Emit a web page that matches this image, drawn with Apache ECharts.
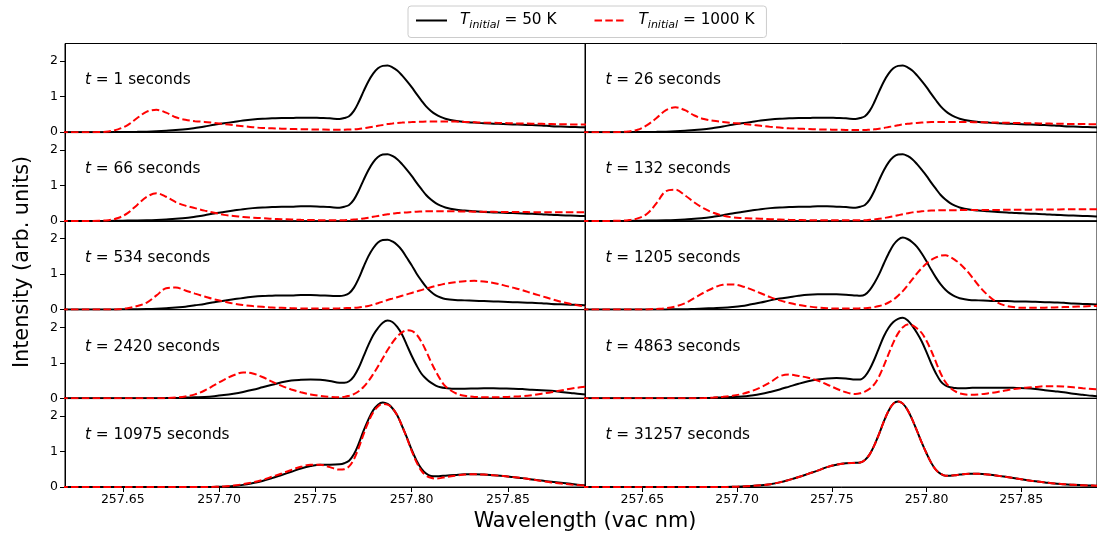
<!DOCTYPE html>
<html>
<head>
<meta charset="utf-8">
<script src="https://cdn.jsdelivr.net/npm/echarts@6/dist/echarts.min.js"></script>
<style>
  html, body { margin: 0; padding: 0; background: #fff; }
  #chart_one { width: 1097px; height: 533px; }
</style>
</head>
<body>
<div id="chart_one"></div>
<script>
// wavelength grid (vac nm), shared by all panels; finer around the main line
const wavelength = [257.6175, 257.6225, 257.6275, 257.6325, 257.6375, 257.6425, 257.6475, 257.6525, 257.6575, 257.6625,
  257.6675, 257.6725, 257.6775, 257.6825, 257.6875, 257.6925, 257.6975, 257.7025, 257.7075, 257.7125,
  257.7175, 257.7225, 257.7275, 257.7325, 257.7375, 257.7425, 257.7475, 257.7525, 257.7575, 257.7625,
  257.765, 257.7675, 257.77, 257.7725, 257.775, 257.7775, 257.78, 257.7825, 257.785, 257.7875, 257.79,
  257.7925, 257.795, 257.7975, 257.8, 257.8025, 257.805, 257.8075, 257.81, 257.8125, 257.815, 257.8175,
  257.8225, 257.8275, 257.8325, 257.8375, 257.8425, 257.8475, 257.8525, 257.8575, 257.8625, 257.8675,
  257.8725, 257.8775, 257.8825, 257.8875, 257.8925];

const times = [1, 26, 66, 132, 534, 1205, 2420, 4863, 10975, 31257];

// T_initial = 50 K
const cold_1 = [0, 0, 0, 0, 0, 0, 0.005, 0.008, 0.01, 0.015, 0.025, 0.04, 0.06, 0.08, 0.12, 0.16, 0.21, 0.25, 0.29, 0.33, 0.36, 0.38, 0.39, 0.4, 0.4, 0.41, 0.41, 0.4, 0.39, 0.37,
  0.4, 0.45, 0.6, 0.85, 1.15, 1.43, 1.65, 1.8, 1.87, 1.88, 1.83, 1.74, 1.6, 1.44, 1.27, 1.08, 0.9, 0.73, 0.6, 0.5, 0.43, 0.38,
  0.32, 0.29, 0.27, 0.25, 0.24, 0.23, 0.22, 0.21, 0.2, 0.19, 0.17, 0.16, 0.15, 0.14, 0.13];
const cold_26 = [0, 0, 0, 0, 0, 0, 0.005, 0.008, 0.01, 0.015, 0.025, 0.04, 0.06, 0.08, 0.12, 0.16, 0.21, 0.25, 0.29, 0.33, 0.36, 0.38, 0.39, 0.4, 0.4, 0.41, 0.41, 0.4, 0.39, 0.37,
  0.4, 0.45, 0.6, 0.85, 1.15, 1.43, 1.65, 1.8, 1.87, 1.88, 1.83, 1.74, 1.6, 1.44, 1.27, 1.08, 0.9, 0.73, 0.6, 0.5, 0.43, 0.38,
  0.32, 0.29, 0.27, 0.25, 0.24, 0.23, 0.22, 0.21, 0.2, 0.19, 0.17, 0.16, 0.15, 0.14, 0.13];
const cold_66 = [0, 0, 0, 0, 0, 0, 0.005, 0.008, 0.01, 0.015, 0.025, 0.04, 0.06, 0.08, 0.12, 0.16, 0.21, 0.25, 0.29, 0.33, 0.36, 0.38, 0.39, 0.4, 0.4, 0.41, 0.41, 0.4, 0.39, 0.37,
  0.4, 0.45, 0.6, 0.85, 1.15, 1.43, 1.65, 1.8, 1.87, 1.88, 1.83, 1.74, 1.6, 1.44, 1.27, 1.08, 0.9, 0.73, 0.6, 0.5, 0.43, 0.38,
  0.32, 0.29, 0.27, 0.25, 0.24, 0.23, 0.22, 0.21, 0.2, 0.19, 0.17, 0.16, 0.15, 0.14, 0.13];
const cold_132 = [0, 0, 0, 0, 0, 0, 0.005, 0.008, 0.01, 0.015, 0.025, 0.04, 0.06, 0.08, 0.12, 0.16, 0.21, 0.25, 0.29, 0.33, 0.36, 0.38, 0.39, 0.4, 0.4, 0.41, 0.41, 0.4, 0.39, 0.37,
  0.4, 0.45, 0.6, 0.85, 1.15, 1.43, 1.65, 1.8, 1.87, 1.88, 1.83, 1.74, 1.6, 1.44, 1.27, 1.08, 0.9, 0.73, 0.6, 0.5, 0.43, 0.38,
  0.32, 0.29, 0.27, 0.25, 0.24, 0.22, 0.21, 0.2, 0.19, 0.17, 0.16, 0.15, 0.14, 0.13, 0.12];
const cold_534 = [0, 0, 0, 0, 0, 0, 0.005, 0.008, 0.01, 0.015, 0.025, 0.04, 0.06, 0.08, 0.12, 0.16, 0.21, 0.25, 0.29, 0.33, 0.36, 0.38, 0.39, 0.4, 0.4, 0.41, 0.41, 0.4, 0.39, 0.38,
  0.4, 0.46, 0.62, 0.88, 1.2, 1.5, 1.73, 1.89, 1.96, 1.97, 1.92, 1.82, 1.67, 1.46, 1.25, 1.02, 0.82, 0.64, 0.5, 0.4, 0.34, 0.3,
  0.27, 0.26, 0.25, 0.24, 0.23, 0.22, 0.21, 0.2, 0.19, 0.18, 0.16, 0.15, 0.14, 0.13, 0.12];
const cold_1205 = [0, 0, 0, 0, 0, 0, 0, 0, 0, 0.005, 0.01, 0.01, 0.02, 0.03, 0.04, 0.05, 0.07, 0.1, 0.15, 0.2, 0.26, 0.31, 0.35, 0.39, 0.42, 0.43, 0.43, 0.43, 0.42, 0.4,
  0.39, 0.42, 0.55, 0.75, 1.0, 1.3, 1.58, 1.82, 1.97, 2.03, 1.99, 1.9, 1.77, 1.58, 1.36, 1.12, 0.9, 0.71, 0.56, 0.45, 0.37, 0.32,
  0.27, 0.26, 0.25, 0.24, 0.24, 0.23, 0.23, 0.22, 0.21, 0.2, 0.19, 0.17, 0.16, 0.15, 0.14];
const cold_2420 = [0, 0, 0, 0, 0, 0, 0, 0, 0, 0, 0.003, 0.005, 0.01, 0.02, 0.03, 0.04, 0.06, 0.09, 0.13, 0.18, 0.24, 0.31, 0.38, 0.45, 0.5, 0.52, 0.53, 0.52, 0.49, 0.44,
  0.44, 0.48, 0.62, 0.86, 1.18, 1.5, 1.78, 1.98, 2.13, 2.19, 2.15, 2.01, 1.8, 1.5, 1.2, 0.93, 0.7, 0.55, 0.44, 0.36, 0.31, 0.29,
  0.27, 0.27, 0.275, 0.28, 0.28, 0.275, 0.27, 0.26, 0.24, 0.23, 0.21, 0.18, 0.15, 0.12, 0.1];
const cold_4863 = [0, 0, 0, 0, 0, 0, 0, 0, 0, 0, 0, 0, 0.003, 0.008, 0.015, 0.025, 0.035, 0.05, 0.08, 0.12, 0.18, 0.25, 0.33, 0.41, 0.48, 0.53, 0.56, 0.57, 0.56, 0.53,
  0.53, 0.62, 0.82, 1.1, 1.43, 1.75, 1.99, 2.15, 2.24, 2.27, 2.2, 2.04, 1.84, 1.6, 1.3, 0.98, 0.7, 0.48, 0.36, 0.31, 0.29, 0.28,
  0.29, 0.3, 0.3, 0.3, 0.3, 0.29, 0.28, 0.26, 0.23, 0.2, 0.17, 0.13, 0.1, 0.07, 0.05];
const cold_10975 = [0, 0, 0, 0, 0, 0, 0, 0, 0, 0, 0, 0, 0, 0, 0, 0, 0.003, 0.01, 0.03, 0.06, 0.11, 0.17, 0.25, 0.34, 0.43, 0.52, 0.59, 0.63, 0.63, 0.64,
  0.67, 0.74, 0.92, 1.22, 1.58, 1.9, 2.16, 2.32, 2.38, 2.34, 2.22, 2.02, 1.72, 1.4, 1.05, 0.75, 0.52, 0.38, 0.31, 0.3, 0.31, 0.32,
  0.34, 0.36, 0.36, 0.35, 0.33, 0.31, 0.28, 0.25, 0.21, 0.18, 0.15, 0.12, 0.09, 0.06, 0.04];
const cold_31257 = [0, 0, 0, 0, 0, 0, 0, 0, 0, 0, 0, 0, 0, 0, 0, 0, 0.005, 0.015, 0.03, 0.05, 0.08, 0.13, 0.2, 0.28, 0.37, 0.46, 0.56, 0.63, 0.67, 0.68,
  0.69, 0.76, 0.92, 1.18, 1.5, 1.85, 2.15, 2.35, 2.41, 2.35, 2.17, 1.9, 1.58, 1.25, 0.95, 0.68, 0.48, 0.37, 0.32, 0.32, 0.33, 0.35,
  0.37, 0.37, 0.35, 0.32, 0.28, 0.24, 0.2, 0.16, 0.13, 0.1, 0.08, 0.06, 0.05, 0.04, 0.03];

// T_initial = 1000 K
const hot_1 = [0, 0, 0, 0, 0.005, 0.02, 0.08, 0.2, 0.4, 0.58, 0.63, 0.55, 0.42, 0.35, 0.31, 0.29, 0.26, 0.23, 0.2, 0.17, 0.14, 0.12, 0.11, 0.1, 0.09, 0.085, 0.08, 0.075, 0.07, 0.07,
  0.07, 0.075, 0.08, 0.09, 0.11, 0.13, 0.155, 0.18, 0.205, 0.23, 0.245, 0.26, 0.27, 0.28, 0.285, 0.29, 0.295, 0.3, 0.3, 0.3, 0.3, 0.3,
  0.3, 0.29, 0.28, 0.27, 0.265, 0.26, 0.25, 0.245, 0.24, 0.235, 0.23, 0.225, 0.22, 0.22, 0.22];
const hot_26 = [0, 0, 0, 0, 0.005, 0.02, 0.07, 0.2, 0.4, 0.62, 0.7, 0.62, 0.47, 0.37, 0.32, 0.29, 0.26, 0.24, 0.21, 0.18, 0.15, 0.13, 0.11, 0.1, 0.09, 0.08, 0.075, 0.07, 0.065, 0.06,
  0.06, 0.06, 0.07, 0.08, 0.1, 0.12, 0.145, 0.17, 0.195, 0.22, 0.235, 0.25, 0.26, 0.27, 0.278, 0.285, 0.288, 0.29, 0.29, 0.29, 0.29, 0.29,
  0.285, 0.28, 0.275, 0.27, 0.265, 0.26, 0.255, 0.25, 0.245, 0.24, 0.235, 0.23, 0.23, 0.225, 0.22];
const hot_66 = [0, 0, 0, 0, 0.005, 0.02, 0.08, 0.22, 0.45, 0.68, 0.78, 0.68, 0.53, 0.43, 0.36, 0.29, 0.23, 0.17, 0.14, 0.11, 0.09, 0.08, 0.06, 0.05, 0.04, 0.03, 0.025, 0.02, 0.015, 0.015,
  0.02, 0.03, 0.04, 0.05, 0.07, 0.09, 0.115, 0.14, 0.165, 0.19, 0.205, 0.22, 0.23, 0.24, 0.25, 0.26, 0.265, 0.27, 0.27, 0.27, 0.27, 0.27,
  0.27, 0.265, 0.26, 0.26, 0.255, 0.25, 0.25, 0.25, 0.245, 0.245, 0.245, 0.245, 0.245, 0.245, 0.245];
const hot_132 = [0, 0, 0, 0, 0.005, 0.02, 0.07, 0.2, 0.5, 0.84, 0.88, 0.72, 0.52, 0.35, 0.23, 0.15, 0.1, 0.08, 0.07, 0.06, 0.05, 0.04, 0.03, 0.025, 0.02, 0.02, 0.015, 0.015, 0.015, 0.015,
  0.015, 0.02, 0.03, 0.04, 0.06, 0.08, 0.105, 0.13, 0.16, 0.19, 0.215, 0.24, 0.255, 0.27, 0.28, 0.29, 0.295, 0.3, 0.3, 0.3, 0.302, 0.305,
  0.31, 0.31, 0.31, 0.31, 0.315, 0.315, 0.315, 0.32, 0.32, 0.32, 0.325, 0.325, 0.325, 0.33, 0.33];
const hot_534 = [0, 0, 0, 0, 0, 0, 0.01, 0.04, 0.1, 0.2, 0.4, 0.6, 0.62, 0.54, 0.45, 0.37, 0.29, 0.23, 0.17, 0.13, 0.1, 0.08, 0.06, 0.05, 0.04, 0.03, 0.03, 0.03, 0.03, 0.035,
  0.04, 0.045, 0.05, 0.06, 0.08, 0.1, 0.14, 0.18, 0.225, 0.27, 0.31, 0.35, 0.39, 0.43, 0.47, 0.51, 0.55, 0.59, 0.63, 0.67, 0.7, 0.73,
  0.77, 0.8, 0.81, 0.79, 0.75, 0.69, 0.62, 0.55, 0.46, 0.38, 0.3, 0.22, 0.16, 0.11, 0.08];
const hot_1205 = [0, 0, 0, 0, 0, 0, 0, 0.005, 0.02, 0.04, 0.09, 0.18, 0.33, 0.48, 0.61, 0.7, 0.71, 0.66, 0.57, 0.46, 0.35, 0.26, 0.19, 0.13, 0.09, 0.06, 0.04, 0.03, 0.03, 0.03,
  0.035, 0.04, 0.05, 0.07, 0.1, 0.14, 0.2, 0.28, 0.39, 0.52, 0.68, 0.85, 1.02, 1.17, 1.3, 1.4, 1.47, 1.52, 1.53, 1.48, 1.4, 1.3,
  1.02, 0.68, 0.4, 0.2, 0.1, 0.06, 0.05, 0.05, 0.055, 0.06, 0.07, 0.08, 0.09, 0.1, 0.11];
const hot_2420 = [0, 0, 0, 0, 0, 0, 0, 0, 0, 0, 0, 0.005, 0.02, 0.05, 0.11, 0.22, 0.37, 0.52, 0.65, 0.73, 0.7, 0.6, 0.47, 0.35, 0.25, 0.17, 0.11, 0.07, 0.04, 0.03,
  0.04, 0.07, 0.12, 0.2, 0.32, 0.48, 0.68, 0.9, 1.13, 1.36, 1.57, 1.74, 1.86, 1.92, 1.9, 1.8, 1.6, 1.33, 1.03, 0.76, 0.52, 0.34,
  0.15, 0.07, 0.04, 0.03, 0.03, 0.035, 0.045, 0.06, 0.09, 0.13, 0.17, 0.22, 0.27, 0.31, 0.34];
const hot_4863 = [0, 0, 0, 0, 0, 0, 0, 0, 0, 0, 0, 0, 0, 0.005, 0.02, 0.04, 0.07, 0.12, 0.2, 0.31, 0.45, 0.62, 0.67, 0.63, 0.58, 0.5, 0.39, 0.27, 0.17, 0.12,
  0.14, 0.19, 0.27, 0.4, 0.62, 0.92, 1.25, 1.57, 1.83, 2.0, 2.08, 2.06, 1.97, 1.84, 1.62, 1.34, 1.02, 0.7, 0.46, 0.3, 0.2, 0.14,
  0.1, 0.11, 0.14, 0.18, 0.23, 0.27, 0.3, 0.32, 0.34, 0.34, 0.33, 0.31, 0.28, 0.26, 0.24];
const hot_10975 = [0, 0, 0, 0, 0, 0, 0, 0, 0, 0, 0, 0, 0, 0, 0, 0, 0.005, 0.015, 0.04, 0.08, 0.13, 0.2, 0.29, 0.38, 0.48, 0.57, 0.63, 0.63, 0.56, 0.49,
  0.5, 0.58, 0.78, 1.1, 1.48, 1.83, 2.1, 2.27, 2.34, 2.32, 2.22, 2.02, 1.72, 1.38, 1.02, 0.7, 0.46, 0.32, 0.26, 0.24, 0.25, 0.28,
  0.32, 0.35, 0.36, 0.35, 0.33, 0.31, 0.28, 0.25, 0.21, 0.17, 0.13, 0.1, 0.07, 0.05, 0.03];
const hot_31257 = [0, 0, 0, 0, 0, 0, 0, 0, 0, 0, 0, 0, 0, 0, 0, 0, 0.005, 0.015, 0.03, 0.05, 0.08, 0.13, 0.2, 0.28, 0.37, 0.46, 0.56, 0.63, 0.67, 0.68,
  0.69, 0.76, 0.92, 1.18, 1.5, 1.85, 2.15, 2.35, 2.41, 2.35, 2.17, 1.9, 1.58, 1.25, 0.95, 0.68, 0.48, 0.37, 0.32, 0.32, 0.33, 0.35,
  0.37, 0.37, 0.35, 0.32, 0.28, 0.24, 0.2, 0.16, 0.13, 0.1, 0.08, 0.06, 0.05, 0.04, 0.03];

const coldRuns = [cold_1, cold_26, cold_66, cold_132, cold_534, cold_1205, cold_2420, cold_4863, cold_10975, cold_31257];
const hotRuns = [hot_1, hot_26, hot_66, hot_132, hot_534, hot_1205, hot_2420, hot_4863, hot_10975, hot_31257];

const xTicks = [257.65, 257.70, 257.75, 257.80, 257.85];
const yTicks = [0, 1, 2];
const coldName = 'T_initial = 50 K';
const hotName = 'T_initial = 1000 K';

var theDom = document.getElementById('chart_one');
var myChart = echarts.init(theDom);
var font = 'DejaVu Sans';

// panel layout (5 rows x 2 cols, no gaps)
var colLeft = [65, 585.5];
var rowTop = [43.5, 132.2, 220.9, 309.6, 398.3];
var panelW = 520, panelH = 88.7;

var grids = [], xAxes = [], yAxes = [], titles = [], series = [];
times.forEach(function (t, k) {
  var row = Math.floor(k / 2), col = k % 2;
  var bottomRow = row === 4;
  grids.push({
    left: colLeft[col], top: rowTop[row], width: panelW, height: panelH,
    show: true, borderColor: '#000', borderWidth: 1, backgroundColor: 'transparent'
  });
  xAxes.push({
    type: 'value', gridIndex: k, min: 257.62, max: 257.89,
    axisLine: { show: true, onZero: false, lineStyle: { color: '#000', width: 1 } },
    axisTick: { show: bottomRow, length: 5, customValues: xTicks, lineStyle: { color: '#000' } },
    axisLabel: {
      show: bottomRow, customValues: xTicks, margin: 6, color: '#000',
      fontFamily: font, fontSize: 12.5,
      formatter: function (v) { return v.toFixed(2); }
    },
    splitLine: { show: false }
  });
  yAxes.push({
    type: 'value', gridIndex: k, min: 0, max: 2.5,
    axisLine: { show: true, lineStyle: { color: '#000', width: 1 } },
    axisTick: { show: col === 0, length: 5, customValues: yTicks, lineStyle: { color: '#000' } },
    axisLabel: { show: col === 0, customValues: yTicks, margin: 7, color: '#000', fontFamily: font, fontSize: 12.5 },
    splitLine: { show: false }
  });
  titles.push({
    text: '{i|t} = ' + t + ' seconds',
    left: colLeft[col] + 20, top: rowTop[row] + 28, padding: 0,
    textStyle: {
      fontFamily: font, fontSize: 15.3, fontWeight: 'normal', color: '#000', lineHeight: 18,
      rich: { i: { fontFamily: font, fontSize: 15.3, fontStyle: 'italic', color: '#000', lineHeight: 18 } }
    }
  });
  series.push({
    name: coldName, type: 'line', xAxisIndex: k, yAxisIndex: k,
    data: wavelength.map(function (w, i) { return [w, coldRuns[k][i]]; }),
    symbol: 'none', smooth: 0.35, clip: true,
    lineStyle: { color: '#000', width: 2 }, itemStyle: { color: '#000' }
  });
  series.push({
    name: hotName, type: 'line', xAxisIndex: k, yAxisIndex: k,
    data: wavelength.map(function (w, i) { return [w, hotRuns[k][i]]; }),
    symbol: 'none', smooth: 0.35, clip: true, z: 3,
    lineStyle: { color: '#ff0000', width: 2, type: [7.5, 3.3] }, itemStyle: { color: '#ff0000' }
  });
});

var option = {
  animation: false,
  backgroundColor: '#fff',
  title: titles,
  legend: {
    data: [coldName, hotName],
    left: 408, top: 6,
    padding: [7, 12, 7, 7],
    itemWidth: 31, itemHeight: 12, itemGap: 37,
    borderColor: '#cccccc', borderWidth: 1, borderRadius: 3,
    itemStyle: { opacity: 0, color: 'transparent', borderWidth: 0 },
    formatter: function (name) {
      var rest = name.split('= ')[1];
      return '{t|T}{s|initial}{n| = ' + rest + '}';
    },
    textStyle: {
      color: '#000', fontFamily: font, fontSize: 15.3, padding: [0, 0, 0, 8],
      rich: {
        t: { fontFamily: font, fontSize: 15.3, fontStyle: 'italic', color: '#000', lineHeight: 20, verticalAlign: 'middle' },
        s: { fontFamily: font, fontSize: 11, fontStyle: 'italic', color: '#000', lineHeight: 12, verticalAlign: 'bottom' },
        n: { fontFamily: font, fontSize: 15.3, color: '#000', lineHeight: 20, verticalAlign: 'middle' }
      }
    }
  },
  grid: grids,
  xAxis: xAxes,
  yAxis: yAxes,
  series: series,
  graphic: [
    {
      type: 'text', x: 585, y: 522,
      style: { text: 'Wavelength (vac nm)', fontFamily: font, fontSize: 20.8, fill: '#000', align: 'center', verticalAlign: 'middle' }
    },
    {
      type: 'text', x: 23, y: 262, rotation: Math.PI / 2,
      style: { text: 'Intensity (arb. units)', fontFamily: font, fontSize: 20.8, fill: '#000', align: 'center', verticalAlign: 'middle' }
    }
  ]
};

myChart.setOption(option);
window.onresize = function () {
  myChart.resize();
};
</script>
</body>
</html>
